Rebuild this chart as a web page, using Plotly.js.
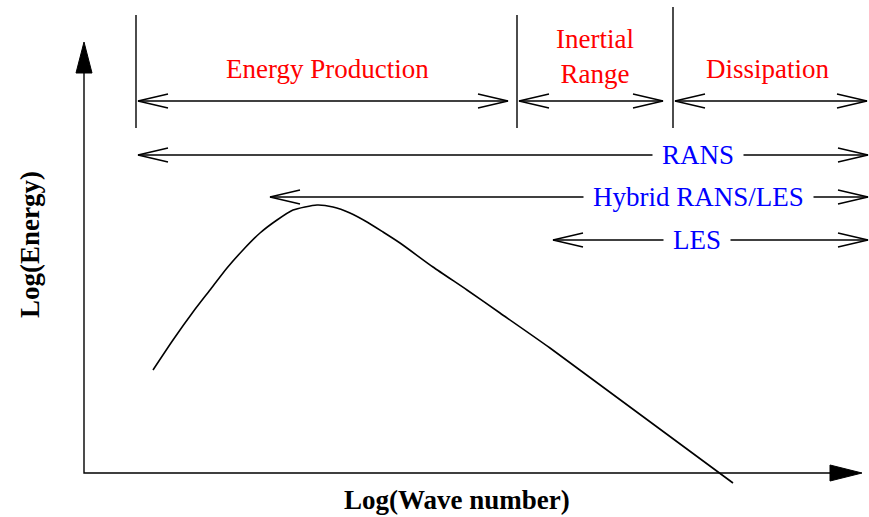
<!DOCTYPE html>
<html>
<head>
<meta charset="utf-8">
<script src="https://cdn.plot.ly/plotly-3.0.1.min.js"></script>
<style>html,body{margin:0;padding:0;background:#fff;}#chart{width:869px;height:517px;}</style>
</head>
<body>
<div id="chart"></div>
<script>
// Schematic energy spectrum (units: drawing coordinates, y grows downward)
const spectrumX = [153, 173, 193, 210, 227, 243, 260, 277, 293, 317, 333, 350, 367, 383, 400, 433, 467, 500, 550, 733];
const spectrumY = [370, 340, 312, 290, 268, 250, 233, 220, 210, 205, 207, 213, 222, 232, 243, 267, 290, 313, 348, 483];

// Axes frame
const axisOrigin = [84, 473];
const axisXEnd = 862;
const axisYEnd = 42;

// Range dividers at top
const dividerX = [136, 517, 673];
const dividerTop = [15, 15, 7];
const dividerBottom = 128;

// Range labels (red)
const rangeLabels = ["Energy Production", "Inertial<br>Range", "Dissipation"];
const rangeLabelX = [327, 595, 768];
const rangeLabelY = [69, 56, 69];
const rangeArrowStart = [138, 519, 675];
const rangeArrowEnd = [508, 663, 867];
const rangeArrowY = 101;

// Model labels (blue)
const modelLabels = ["RANS", "Hybrid RANS/LES", "LES"];
const modelLabelX = [698, 698, 697];
const modelArrowStart = [138, 270, 553];
const modelArrowEnd = [868, 868, 868];
const modelArrowY = [155, 197, 240];

const axisTitleX = "Log(Wave number)";
const axisTitleY = "Log(Energy)";

const FONT = "Liberation Serif, Times New Roman, serif";
const HEAD_L = 30, HEAD_W = 7;

function doubleArrow(x0, x1, y, xs, ys) {
  xs.push(x0, x1, null, x0 + HEAD_L, x0, x0 + HEAD_L, null, x1 - HEAD_L, x1, x1 - HEAD_L, null);
  ys.push(y, y, null, y - HEAD_W, y, y + HEAD_W, null, y - HEAD_W, y, y + HEAD_W, null);
}

const ax = [], ay = [];
rangeArrowStart.forEach((s, i) => doubleArrow(s, rangeArrowEnd[i], rangeArrowY, ax, ay));
modelArrowStart.forEach((s, i) => doubleArrow(s, modelArrowEnd[i], modelArrowY[i], ax, ay));

const dx = [], dy = [];
dividerX.forEach((x, i) => { dx.push(x, x, null); dy.push(dividerTop[i], dividerBottom, null); });

const traces = [
  {x: spectrumX, y: spectrumY, mode: "lines", line: {color: "#000", width: 1.6, shape: "spline", smoothing: 0.6}, hoverinfo: "skip"},
  {x: ax, y: ay, mode: "lines", line: {color: "#000", width: 1.4}, hoverinfo: "skip"},
  {x: dx, y: dy, mode: "lines", line: {color: "#000", width: 1.4}, hoverinfo: "skip"},
  {x: [axisOrigin[0], axisOrigin[0], axisXEnd - 20], y: [axisYEnd + 20, axisOrigin[1], axisOrigin[1]], mode: "lines", line: {color: "#000", width: 1.4}, hoverinfo: "skip"}
];

const shapes = [
  {type: "path", xref: "x", yref: "y",
   path: `M ${axisXEnd} ${axisOrigin[1]} L ${axisXEnd - 32} ${axisOrigin[1] - 8} L ${axisXEnd - 32} ${axisOrigin[1] + 8} Z`,
   fillcolor: "#000", line: {color: "#000", width: 1}},
  {type: "path", xref: "x", yref: "y",
   path: `M ${axisOrigin[0]} ${axisYEnd} L ${axisOrigin[0] - 8} ${axisYEnd + 31} L ${axisOrigin[0] + 8} ${axisYEnd + 31} Z`,
   fillcolor: "#000", line: {color: "#000", width: 1}}
];

const annotations = [];
rangeLabels.forEach((t, i) => annotations.push({
  x: rangeLabelX[i], y: rangeLabelY[i], xref: "x", yref: "y", text: t, showarrow: false,
  xanchor: "center", yanchor: "middle", font: {family: FONT, size: 27, color: "#ff0000"}
}));
modelLabels.forEach((t, i) => annotations.push({
  x: modelLabelX[i], y: modelArrowY[i], xref: "x", yref: "y", text: t, showarrow: false,
  xanchor: "center", yanchor: "middle", bgcolor: "#ffffff", borderpad: 9,
  font: {family: FONT, size: 27, color: "#0000ff"}
}));
annotations.push({x: 457, y: 500, xref: "x", yref: "y", text: "<b>" + axisTitleX + "</b>", showarrow: false,
  xanchor: "center", yanchor: "middle", font: {family: FONT, size: 27, color: "#000"}});
annotations.push({x: 30, y: 245, xref: "x", yref: "y", text: "<b>" + axisTitleY + "</b>", showarrow: false,
  textangle: -90, xanchor: "center", yanchor: "middle", font: {family: FONT, size: 27, color: "#000"}});

const layout = {
  width: 869, height: 517,
  margin: {l: 0, r: 0, t: 0, b: 0},
  paper_bgcolor: "#fff", plot_bgcolor: "#fff",
  showlegend: false,
  xaxis: {range: [0, 869], visible: false, fixedrange: true},
  yaxis: {range: [517, 0], visible: false, fixedrange: true},
  shapes: shapes,
  annotations: annotations
};

Plotly.newPlot("chart", traces, layout, {staticPlot: true, displayModeBar: false});
</script>
</body>
</html>
